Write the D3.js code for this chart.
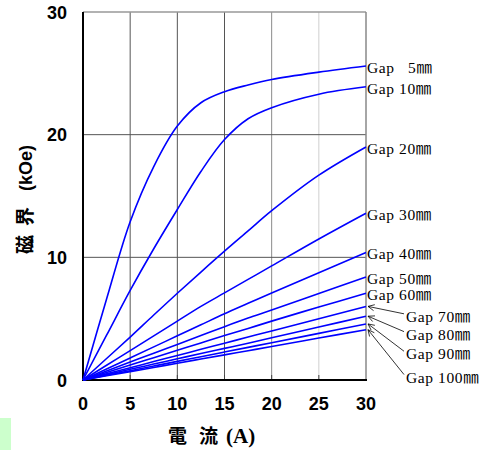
<!DOCTYPE html>
<html><head>
<meta charset="utf-8">
<script src="https://d3js.org/d3.v7.min.js"></script>
<style>
  body { margin: 0; background: #fff; }
  .tick-label { font-family: "Liberation Sans", Arial, sans-serif; font-weight: bold; font-size: 18px; }
  .gap-label { font-family: "Liberation Serif", "Noto Sans CJK JP", serif; font-size: 15.5px; letter-spacing: 0.6px; }
  .axis-title { font-family: "Noto Sans CJK JP", sans-serif; font-weight: bold; font-size: 19px; }
  .unit-serif { font-family: "Liberation Serif", serif; font-weight: bold; font-size: 21px; }
  .unit-sans { font-family: "Liberation Sans", sans-serif; font-weight: bold; font-size: 18px; }
</style>
</head>
<body>
<svg id="chart" width="483" height="450"></svg>
<script>
  // current (A) sample points, shared by all series
  const current = [0, 2.5, 5, 7.5, 10, 12.5, 15, 17.5, 20, 25, 30];

  // field (kOe) for each gap
  const gapNames = ["Gap   5㎜", "Gap 10㎜", "Gap 20㎜", "Gap 30㎜", "Gap 40㎜", "Gap 50㎜",
                    "Gap 60㎜", "Gap 70㎜", "Gap 80㎜", "Gap 90㎜", "Gap 100㎜"];
  const gap5   = [0, 6.6, 12.9, 17.4, 20.7, 22.6, 23.5, 24.05, 24.5, 25.1, 25.6];
  const gap10  = [0, 3.65, 7.3, 10.7, 13.9, 17.0, 19.6, 21.3, 22.2, 23.3, 23.9];
  const gap20  = [0, 1.75, 3.5, 5.3, 7.07, 8.8, 10.5, 12.15, 13.8, 16.7, 19.0];
  const gap30  = [0, 1.2, 2.4, 3.6, 4.8, 6.0, 7.1, 8.2, 9.3, 11.5, 13.6];
  const gap40  = [0, 0.9, 1.8, 2.7, 3.6, 4.5, 5.4, 6.25, 7.1, 8.75, 10.4];
  const gap50  = [0, 0.73, 1.46, 2.19, 2.9, 3.62, 4.35, 5.05, 5.7, 7.05, 8.4];
  const gap60  = [0, 0.61, 1.22, 1.82, 2.42, 3.02, 3.62, 4.2, 4.8, 5.95, 7.07];
  const gap70  = [0, 0.5, 1.0, 1.5, 2.0, 2.5, 3.0, 3.5, 4.0, 5.0, 6.0];
  const gap80  = [0, 0.43, 0.87, 1.3, 1.73, 2.16, 2.58, 3.0, 3.45, 4.32, 5.2];
  const gap90  = [0, 0.38, 0.76, 1.14, 1.52, 1.9, 2.28, 2.66, 3.04, 3.8, 4.57];
  const gap100 = [0, 0.34, 0.68, 1.02, 1.37, 1.71, 2.05, 2.39, 2.73, 3.42, 4.1];
  const allGaps = [gap5, gap10, gap20, gap30, gap40, gap50, gap60, gap70, gap80, gap90, gap100];

  // where the pointer labels of the last four gaps sit (kOe)
  const pointerLabelY = [5.15, 3.7, 2.1, 0.2];

  const xTicks = [0, 5, 10, 15, 20, 25, 30];
  const yTicks = [0, 10, 20, 30];

  const svg = d3.select("#chart");
  const margin = {left: 83, top: 12, right: 117, bottom: 70};
  const width = 483, height = 450;

  const x = d3.scaleLinear().domain([0, 30]).range([margin.left, width - margin.right]);
  const y = d3.scaleLinear().domain([0, 30]).range([height - margin.bottom, margin.top]);

  // little green box bottom left
  svg.append("rect").attr("x", 0).attr("y", 418).attr("width", 11).attr("height", 32)
     .attr("fill", "#ccffcc");

  // grid
  let grid = svg.append("g");
  const vColors = {5: "#555", 10: "#555", 15: "#555", 20: "#8a8a8a", 25: "#cfcfcf"};
  [5, 10, 15, 20, 25].forEach(v => {
    grid.append("line").attr("x1", x(v)).attr("x2", x(v)).attr("y1", y(30)).attr("y2", y(0))
        .attr("stroke", vColors[v]).attr("stroke-width", 1);
    grid.append("line").attr("x1", x(v)).attr("x2", x(v)).attr("y1", y(0) - 5).attr("y2", y(0))
        .attr("stroke", "#444").attr("stroke-width", 1);
  });
  [10, 20].forEach(v => {
    grid.append("line").attr("x1", x(0)).attr("x2", x(30)).attr("y1", y(v)).attr("y2", y(v))
        .attr("stroke", "#555").attr("stroke-width", 1);
  });
  // frame
  grid.append("line").attr("x1", x(0)).attr("x2", x(30)).attr("y1", y(30)).attr("y2", y(30))
      .attr("stroke", "#999").attr("stroke-width", 1.5);
  grid.append("line").attr("x1", x(30)).attr("x2", x(30)).attr("y1", y(30)).attr("y2", y(0))
      .attr("stroke", "#888").attr("stroke-width", 1.5);
  grid.append("line").attr("x1", x(0)).attr("x2", x(30) + 1).attr("y1", y(0)).attr("y2", y(0))
      .attr("stroke", "#000").attr("stroke-width", 2);
  grid.append("line").attr("x1", x(0)).attr("x2", x(0)).attr("y1", y(30)).attr("y2", y(0) + 1)
      .attr("stroke", "#000").attr("stroke-width", 2);

  // tick labels
  xTicks.forEach(t => {
    svg.append("text").attr("class", "tick-label").attr("x", x(t)).attr("y", y(0) + 30)
       .attr("text-anchor", "middle").text(t);
  });
  yTicks.forEach(t => {
    svg.append("text").attr("class", "tick-label").attr("x", 67).attr("y", y(t) + 6.5)
       .attr("text-anchor", "end").text(t);
  });

  // axis titles, each piece placed on its own so the gaps match
  let xt = svg.append("text").attr("class", "axis-title").attr("y", 443);
  xt.append("tspan").attr("x", 168).text("電");
  xt.append("tspan").attr("x", 199).text("流");
  xt.append("tspan").attr("x", 226).attr("class", "unit-serif").text("(A)");

  let yt = svg.append("text").attr("class", "axis-title")
     .attr("transform", "translate(32,254) rotate(-90)");
  yt.append("tspan").attr("x", 0).text("磁");
  yt.append("tspan").attr("x", 28).text("界");
  yt.append("tspan").attr("x", 63).attr("class", "unit-sans").text("(kOe)");

  // curves
  const line = d3.line().x((d, i) => x(current[i])).y(d => y(d)).curve(d3.curveCatmullRom.alpha(0.5));
  allGaps.forEach(series => {
    svg.append("path").attr("d", line(series)).attr("fill", "none")
       .attr("stroke", "#0000ff").attr("stroke-width", 1.6);
  });

  // labels
  allGaps.forEach((series, i) => {
    const endY = y(series[series.length - 1]);
    if (i < 7) {
      svg.append("text").attr("class", "gap-label").attr("xml:space", "preserve")
         .attr("x", x(30) + 1).attr("y", endY + 7)
         .text(gapNames[i]);
    } else {
      const ly = y(pointerLabelY[i - 7]);
      const x0 = x(30) + 2;
      svg.append("line").attr("x1", x0).attr("y1", endY).attr("x2", 404).attr("y2", ly - 3)
         .attr("stroke", "#000").attr("stroke-width", 0.8);
      // small open arrow head
      const ang = Math.atan2(ly - 3 - endY, 404 - x0);
      const a1 = ang + 0.45, a2 = ang - 0.45;
      svg.append("path")
         .attr("d", `M${x0 + 7 * Math.cos(a1)},${endY + 7 * Math.sin(a1)} L${x0},${endY} L${x0 + 7 * Math.cos(a2)},${endY + 7 * Math.sin(a2)}`)
         .attr("fill", "none").attr("stroke", "#000").attr("stroke-width", 0.8);
      svg.append("text").attr("class", "gap-label").attr("xml:space", "preserve")
         .attr("x", 406).attr("y", ly + 5)
         .text(gapNames[i]);
    }
  });
</script>
</body></html>
